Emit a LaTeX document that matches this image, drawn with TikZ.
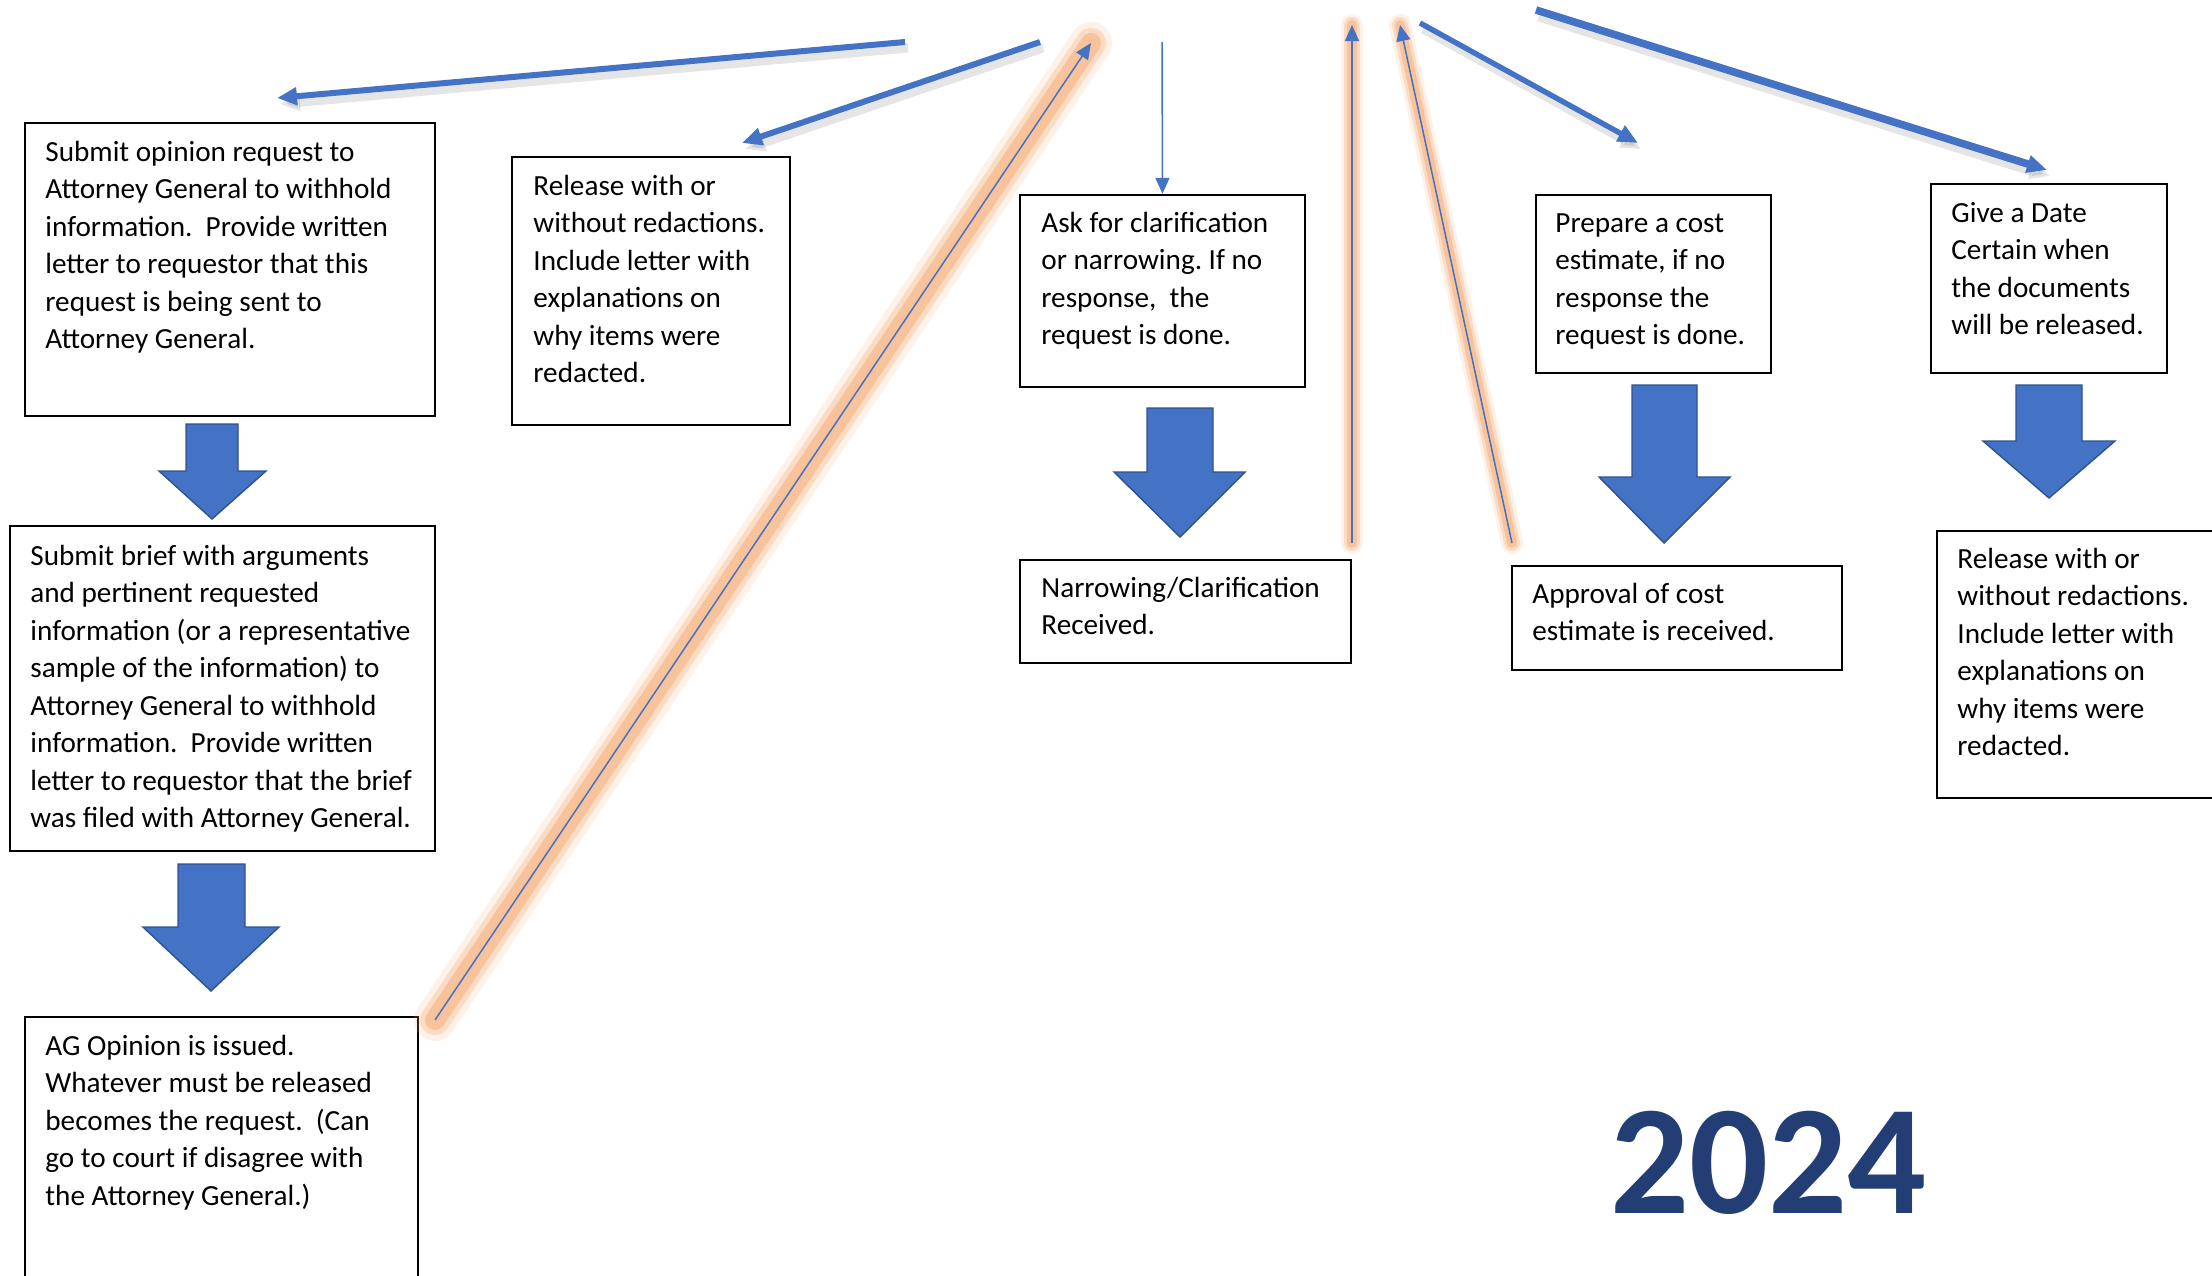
\documentclass[tikz,border=0pt]{standalone}
\usepackage{fontspec}
\setmainfont{Carlito}
\usetikzlibrary{arrows.meta,calc,fit}
\definecolor{accblue}{RGB}{68,114,196}
\definecolor{accedge}{RGB}{47,82,143}
\definecolor{glowc}{RGB}{247,178,128}
\definecolor{yearblue}{RGB}{35,62,117}
\newcommand{\fl}{\rule{0pt}{11.5pt}}
\frenchspacing
\begin{document}
\begin{tikzpicture}[x=0.5pt,y=-0.5pt,
  box/.style={draw=black,line width=1.2pt,inner sep=0pt},
  txt/.style={anchor=north west,inner sep=0pt,align=left,font=\fontsize{14.6pt}{18.75pt}\selectfont},
  blockarrow/.style={fill=accblue,draw=accedge,line width=0.7pt,line join=miter},
  thinarrow/.style={draw=accblue,line width=0.75pt,-{Triangle[length=8pt,width=7pt]}},
  thickarrow/.style={draw=accblue,line width=#1,-{Triangle[length=10pt,width=8.5pt]}},
  shadowline/.style={draw=black,opacity=0.10,line width=#1,-{Triangle[length=10pt,width=8.5pt]}},
  glowA/.style={draw=glowc,line cap=round,opacity=0.18,line width=#1},
  glowB/.style={draw=glowc,line cap=round,opacity=0.35,line width=#1},
  glowC/.style={draw=glowc,line cap=round,opacity=0.6,line width=#1}
]
\clip (0,0) rectangle (2212,1275);
\fill[white] (0,0) rectangle (2212,1275);

% ---------- boxes ----------
\node[box,fit={(25,123) (435,416)}] (A) {};
\node[box,fit={(10,526) (435,851)}] (B) {};
\node[box,fit={(25,1017) (418,1290)}] (C) {};
\node[box,fit={(512,157) (790,425)}] (D) {};
\node[box,fit={(1020,195) (1305,387)}] (E) {};
\node[box,fit={(1020,560) (1351,663)}] (F) {};
\node[box,fit={(1536,195) (1771,373)}] (G) {};
\node[box,fit={(1512,566) (1842,670)}] (H) {};
\node[box,fit={(1931,184) (2167,373)}] (I) {};
\node[box,fit={(1937,531) (2230,798)}] (J) {};

% ---------- texts ----------
\node[txt] (At) at (45,138) {\fl Submit opinion request to\\Attorney General to withhold\\information.~ Provide written\\letter to requestor that this\\request is being sent to\\Attorney General.};
\node[txt] (Bt) at (30,542) {\fl Submit brief with arguments\\and pertinent requested\\information (or a representative\\sample of the information) to\\Attorney General to withhold\\information.~ Provide written\\letter to requestor that the brief\\was filed with Attorney General.};
\node[txt] (Ct) at (45,1032) {\fl AG Opinion is issued.\\Whatever must be released\\becomes the request.~ (Can\\go to court if disagree with\\the Attorney General.)};
\node[txt] (Dt) at (533,172) {\fl Release with or\\without redactions.\\Include letter with\\explanations on\\why items were\\redacted.};
\node[txt] (Et) at (1041,209) {\fl Ask for clarification\\or narrowing. If no\\response,~ the\\request is done.};
\node[txt] (Ft) at (1041,574) {\fl Narrowing/Clarification\\Received.};
\node[txt] (Gt) at (1555,209) {\fl Prepare a cost\\estimate, if no\\response the\\request is done.};
\node[txt] (Ht) at (1532,580) {\fl Approval of cost\\estimate is received.};
\node[txt] (It) at (1951,199) {\fl Give a Date\\Certain when\\the documents\\will be released.};
\node[txt] (Jt) at (1957,545) {\fl Release with or\\without redactions.\\Include letter with\\explanations on\\why items were\\redacted.};

% ---------- block arrows ----------
\path[blockarrow] (186,424) -- (238,424) -- (238,471) -- (266,471) -- (212,519) -- (159,471) -- (186,471) -- cycle;
\path[blockarrow] (178,864) -- (245,864) -- (245,927) -- (279,927) -- (211,991) -- (143,927) -- (178,927) -- cycle;
\path[blockarrow] (1147,408) -- (1213,408) -- (1213,472) -- (1245,472) -- (1180,537) -- (1114,472) -- (1147,472) -- cycle;
\path[blockarrow] (1632,385) -- (1697,385) -- (1697,477) -- (1730,477) -- (1664,543) -- (1599,477) -- (1632,477) -- cycle;
\path[blockarrow] (2016,385) -- (2082,385) -- (2082,441) -- (2115,441) -- (2049,498) -- (1983,441) -- (2016,441) -- cycle;

% ---------- coordinates of free ends ----------
\coordinate (a1s) at (905,42);   \coordinate (a1e) at (277,98);
\coordinate (a2s) at (1040,42);  \coordinate (a2e) at (742,143);
\coordinate (a7s) at (1420,23);  \coordinate (a7e) at (1638,143);
\coordinate (a8s) at (1536,10);  \coordinate (a8e) at (2047,170);
\coordinate (g3s) at (435,1020); \coordinate (g3e) at (1091,43);
\coordinate (g5s) at (1352,543); \coordinate (g5e) at (1352,25);
\coordinate (g6s) at (1512,543); \coordinate (g6e) at (1400,25);
\coordinate (t4s) at (1162,42);

% ---------- shadows of thick arrows ----------
\draw[shadowline=4.5pt] ($(a1s)+(3,6)$) -- ($(a1e)+(3,6)$);
\draw[shadowline=4.5pt] ($(a2s)+(3,6)$) -- ($(a2e)+(3,6)$);
\draw[shadowline=4.5pt] ($(a7s)+(3,6)$) -- ($(a7e)+(3,6)$);
\draw[shadowline=5.5pt] ($(a8s)+(3,6)$) -- ($(a8e)+(3,6)$);

% ---------- thick arrows ----------
\draw[thickarrow=3pt] (a1s) -- (a1e);
\draw[thickarrow=3pt] (a2s) -- (a2e);
\draw[thickarrow=2.7pt] (a7s) -- (a7e);
\draw[thickarrow=3.8pt] (a8s) -- (a8e);

% ---------- glows ----------
\foreach \s/\e in {g3s/g3e}{
  \draw[glowA=21pt] (\s) -- (\e);
  \draw[glowB=15pt] (\s) -- (\e);
  \draw[glowC=10pt] (\s) -- (\e);
}
\foreach \s/\e in {g5s/g5e,g6s/g6e}{
  \draw[glowA=11pt] (\s) -- (\e);
  \draw[glowB=8pt] (\s) -- (\e);
  \draw[glowC=5pt] (\s) -- (\e);
}

% ---------- thin arrows ----------
\draw[thinarrow] (g3s) -- (g3e);
\draw[thinarrow] (g5s) -- (g5e);
\draw[thinarrow] (g6s) -- (g6e);
\draw[thinarrow] (t4s) -- (E.north);

% ---------- year ----------
\node[anchor=base west,inner sep=0pt,text=yearblue,font=\fontsize{78pt}{80pt}\selectfont\bfseries] (yr) at (1610,1213) {2024};
\end{tikzpicture}
\end{document}
